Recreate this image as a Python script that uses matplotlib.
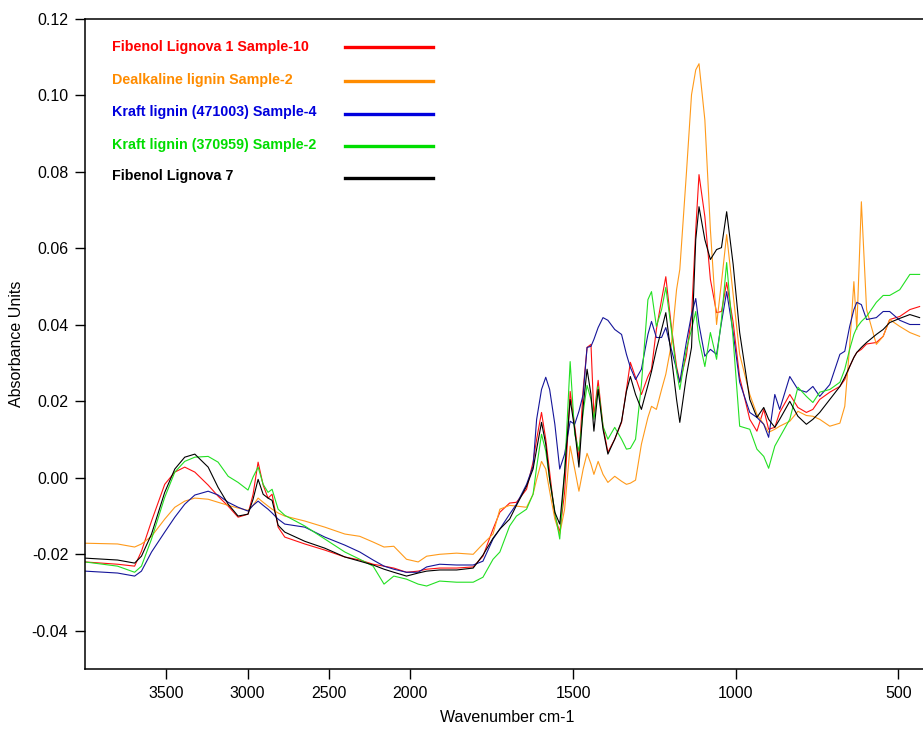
import numpy as np
import matplotlib
matplotlib.use('Agg')
import matplotlib.pyplot as plt
from matplotlib.lines import Line2D

plt.rcParams['font.family'] = ['Liberation Sans', 'DejaVu Sans']
plt.rcParams['axes.unicode_minus'] = False

# wavenumbers (cm-1) shared by all spectra
wavenumber = [4000, 3800, 3695, 3653, 3591, 3510, 3448, 3387, 3325, 3243,
              3182, 3120, 3059, 2998, 2967, 2936, 2905, 2875, 2850, 2813,
              2772, 2649, 2526, 2403, 2311, 2229, 2162, 2102, 2024, 1976,
              1950, 1910, 1858, 1807, 1777, 1746, 1725, 1695, 1674, 1643,
              1623, 1612, 1597, 1584, 1572, 1556, 1541, 1526, 1509, 1495,
              1482, 1469, 1457, 1445, 1436, 1423, 1408, 1393, 1372, 1351,
              1336, 1324, 1308, 1290, 1270, 1259, 1244, 1228, 1215, 1198,
              1182, 1172, 1152, 1136, 1123, 1113, 1095, 1078, 1059, 1044,
              1028, 1008, 988, 957, 935, 914, 899, 880, 865, 834,
              809, 783, 763, 742, 711, 680, 665, 650, 637, 628,
              614, 598, 568, 547, 527, 496, 465, 435]

# absorbance in milli-absorbance units
fibenol1_mau = [-22.0, -22.6, -23.1, -19.2, -11.3, -1.7, 1.5, 2.8, 1.5, -1.9,
                -4.8, -7.4, -10.3, -9.5, -4.3, 4.1, -1.9, -5.3, -4.3, -12.9,
                -15.5, -17.3, -18.9, -20.7, -21.5, -22.6, -23.1, -23.6, -24.7, -24.4,
                -23.9, -23.6, -23.6, -23.3, -20.5, -13.4, -9.0, -6.6, -6.4, -3.0,
                4.1, 10.1, 17.1, 10.1, 1.5, -10.0, -14.2, -3.8, 22.6, 13.5,
                4.9, 23.1, 34.1, 34.9, 16.1, 25.5, 13.5, 6.7, 10.1, 14.5,
                23.1, 30.2, 26.3, 21.8, 26.5, 28.4, 38.8, 46.6, 52.6, 39.6,
                29.1, 25.0, 31.8, 42.2, 64.9, 79.3, 68.3, 51.9, 43.2, 43.5,
                51.1, 40.6, 26.3, 15.3, 12.2, 17.9, 12.7, 13.2, 17.1, 21.8,
                18.4, 17.1, 17.9, 20.5, 22.4, 23.9, 25.7, 29.1, 31.5, 32.8,
                33.6, 35.0, 35.4, 37.0, 41.4, 42.2, 44.0, 44.8]

dealkaline_mau = [-17.1, -17.3, -18.1, -17.3, -15.3, -10.8, -7.7, -6.1, -5.3, -5.6,
                  -6.4, -7.2, -7.9, -8.5, -7.2, -5.3, -6.4, -7.4, -8.2, -9.2,
                  -10.0, -11.3, -12.9, -14.7, -15.3, -16.8, -18.1, -17.9, -21.3, -22.0,
                  -20.5, -20.0, -19.7, -20.0, -17.3, -14.7, -8.2, -7.2, -7.4, -7.7,
                  -4.3, -0.4, 4.3, 2.3, -3.5, -10.8, -14.7, -8.2, 8.3, 2.3,
                  -3.5, 2.3, 6.4, 3.6, 0.9, 4.3, 0.9, -1.2, 0.4, -0.9,
                  -1.7, -1.4, -0.6, 8.8, 15.8, 18.7, 17.9, 23.1, 27.1, 34.9,
                  49.2, 54.5, 79.3, 100.2, 106.7, 108.3, 93.6, 64.9, 40.1, 51.1,
                  63.6, 47.9, 32.3, 21.8, 16.6, 14.0, 11.9, 12.7, 13.5, 14.8,
                  17.4, 16.3, 16.1, 15.3, 13.5, 14.3, 18.7, 34.4, 51.3, 38.8,
                  72.2, 44.0, 34.9, 37.0, 41.4, 39.6, 38.0, 37.0]

kraft471003_mau = [-24.4, -24.9, -25.7, -24.4, -19.4, -14.2, -10.3, -6.9, -4.5, -3.5,
                   -4.5, -6.4, -7.7, -8.7, -7.2, -6.1, -7.2, -8.2, -9.2, -10.8,
                   -12.1, -12.9, -15.5, -17.6, -19.4, -21.5, -23.1, -23.9, -24.7, -24.7,
                   -23.3, -22.6, -22.8, -22.8, -21.8, -16.0, -13.4, -9.5, -6.9, -1.7,
                   3.0, 15.3, 23.1, 26.3, 23.1, 14.0, 2.3, 6.2, 14.8, 14.0,
                   17.4, 21.8, 34.1, 34.4, 36.2, 39.3, 41.9, 41.2, 38.8, 37.5,
                   32.3, 28.9, 25.7, 28.4, 37.5, 40.9, 36.7, 36.7, 39.3, 33.6,
                   28.4, 25.0, 35.4, 42.7, 46.9, 40.1, 31.8, 33.6, 32.3, 40.6,
                   48.7, 38.0, 25.0, 17.1, 15.8, 14.0, 10.6, 21.8, 17.9, 26.5,
                   23.1, 22.4, 23.9, 21.3, 24.4, 32.3, 33.1, 39.6, 44.0, 45.9,
                   45.3, 41.4, 41.9, 43.5, 43.5, 41.2, 40.1, 40.1]

kraft370959_mau = [-22.0, -23.1, -24.7, -23.1, -16.0, -5.1, 1.5, 4.3, 5.4, 5.6,
                   4.1, 0.4, -1.2, -3.2, 0.2, 2.8, -1.7, -3.8, -3.0, -8.2,
                   -9.8, -12.6, -16.0, -19.4, -21.3, -23.1, -27.8, -25.7, -26.5, -27.8,
                   -28.3, -27.0, -27.3, -27.3, -26.0, -21.3, -19.4, -12.6, -10.0, -8.2,
                   -4.3, 2.8, 11.4, 7.0, -0.4, -9.0, -16.0, 1.5, 30.4, 11.4,
                   7.0, 17.1, 24.2, 20.5, 15.3, 23.9, 13.5, 10.1, 13.2, 10.1,
                   7.5, 7.7, 10.1, 24.4, 46.6, 48.7, 39.6, 44.0, 49.8, 38.8,
                   27.8, 23.1, 33.6, 38.8, 43.5, 36.2, 29.1, 38.0, 31.0, 41.4,
                   56.3, 36.2, 13.5, 12.7, 7.5, 5.6, 2.5, 8.3, 10.6, 15.3,
                   23.7, 21.3, 19.7, 22.4, 23.1, 25.0, 28.4, 33.6, 37.5, 39.3,
                   40.9, 42.2, 45.9, 47.7, 47.7, 49.2, 53.2, 53.2]

fibenol7_mau = [-21.0, -21.5, -22.3, -20.5, -14.7, -3.8, 2.3, 5.4, 6.2, 2.8,
                -2.5, -6.9, -10.0, -9.5, -5.6, -0.4, -4.3, -5.3, -5.9, -12.4,
                -14.2, -16.6, -18.4, -20.7, -21.8, -22.8, -23.9, -24.7, -25.7, -24.9,
                -24.4, -24.1, -24.1, -23.6, -20.2, -15.8, -13.4, -10.8, -7.2, -2.2,
                2.3, 7.5, 14.5, 8.8, -0.4, -9.0, -12.1, 1.5, 20.5, 12.7,
                2.8, 18.7, 28.4, 21.8, 12.2, 23.1, 12.7, 6.2, 10.1, 14.8,
                22.6, 26.5, 21.8, 17.9, 24.2, 27.8, 33.6, 38.8, 43.2, 31.8,
                20.5, 14.5, 26.5, 34.1, 62.3, 70.9, 62.3, 57.1, 59.7, 60.2,
                69.6, 55.8, 38.0, 20.5, 15.8, 18.4, 15.3, 13.2, 15.3, 20.0,
                16.1, 14.0, 15.3, 17.1, 20.5, 23.9, 26.3, 29.1, 31.5, 32.8,
                34.1, 35.4, 37.5, 38.8, 40.6, 41.7, 42.7, 41.9]

labels = ['Fibenol Lignova 1 Sample-10', 'Dealkaline lignin Sample-2',
          'Kraft lignin (471003) Sample-4', 'Kraft lignin (370959) Sample-2',
          'Fibenol Lignova 7']
line_colors = ['#ff1010', '#ff9a1a', '#15159a', '#22e022', '#000000']
text_colors = ['#ff0000', '#ff8c00', '#0000dd', '#00dd00', '#000000']
series = [fibenol1_mau, dealkaline_mau, kraft471003_mau, kraft370959_mau, fibenol7_mau]


# OPUS style axis: region above 2000 cm-1 is compressed by factor 2
def fwd(x):
    x = np.asarray(x, dtype=float)
    return np.where(x > 2000, 2000 + (x - 2000) / 2.0, x)


def inv(t):
    t = np.asarray(t, dtype=float)
    return np.where(t > 2000, 2000 + (t - 2000) * 2.0, t)


W, H = 923, 730
fig = plt.figure(figsize=(W / 100, H / 100), dpi=100)
ax = fig.add_axes([85 / W, 1 - 669 / H, (931 - 85) / W, 650 / H])

wn = np.array(wavenumber)
for vals, c in zip(series, line_colors):
    ax.plot(wn, np.array(vals) / 1000.0, color=c, lw=0.8)

ax.set_xscale('function', functions=(fwd, inv))
ax.set_xlim(4000, 400)
ax.set_ylim(-0.05, 0.12)
ax.set_xticks([3500, 3000, 2500, 2000, 1500, 1000, 500])
ax.set_xticklabels(['3500', '3000', '2500', '2000', '1500', '1000', '500'])
ax.set_yticks(np.arange(-0.04, 0.121, 0.02))
ax.set_yticklabels(['%.2f' % v for v in np.arange(-0.04, 0.121, 0.02)])
ax.tick_params(direction='out', length=7, width=1.0, labelsize=11.5, pad=5)
for s in ['left', 'bottom', 'top']:
    ax.spines[s].set_linewidth(1.1)
ax.spines['right'].set_visible(False)

fig.text(507 / W, 1 - 718 / H, 'Wavenumber cm-1', ha='center', va='center', fontsize=11.5)
fig.text(17 / W, 1 - 344 / H, 'Absorbance Units', ha='center', va='center',
         rotation=90, fontsize=11.5)

# legend drawn by hand, like in the OPUS printout
text_y = [47, 80, 112, 145, 176]
line_y = [46.5, 81, 114, 146, 177.5]
for lab, tc, lc, ty, ly in zip(labels, text_colors, line_colors, text_y, line_y):
    fig.text(112 / W, 1 - ty / H, lab, color=tc, fontsize=10.3, fontweight='bold',
             ha='left', va='center')
    fig.add_artist(Line2D([345 / W, 433 / W], [1 - ly / H, 1 - ly / H],
                          color=tc, lw=2.4, transform=fig.transFigure))

fig.savefig('out.png', dpi=100)
